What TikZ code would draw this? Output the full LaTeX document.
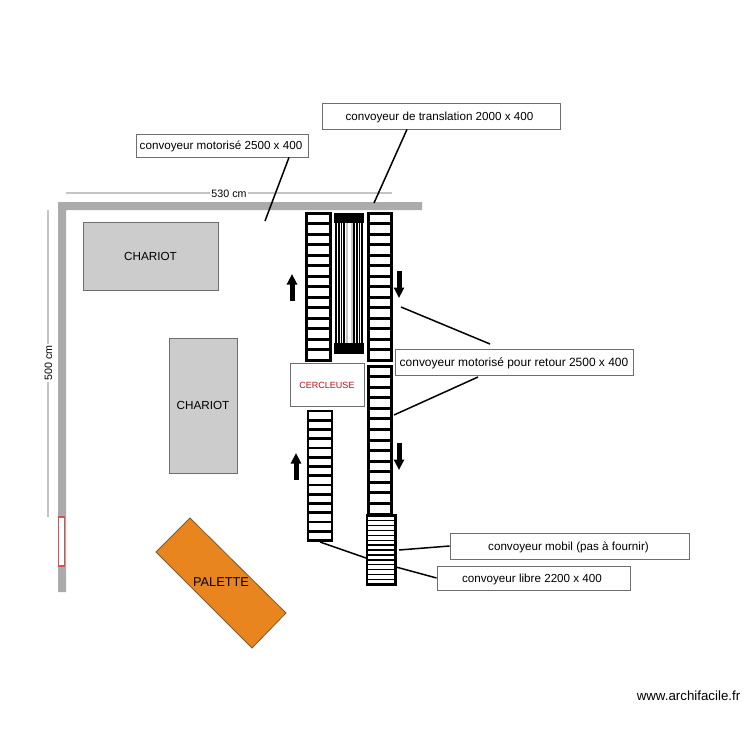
\documentclass[tikz,border=0pt]{standalone}
\usepackage{fontspec}
\setmainfont{Liberation Sans}
\usetikzlibrary{arrows.meta}
\definecolor{wallc}{HTML}{ABABAB}
\definecolor{chariotc}{HTML}{CCCCCC}
\definecolor{edgec}{HTML}{6E6E6E}
\definecolor{palettec}{HTML}{E8851E}
\definecolor{paledge}{HTML}{7A5A30}
\definecolor{dimc}{HTML}{C4C4C4}
\definecolor{redc}{HTML}{C8242B}
\definecolor{cerc}{HTML}{B80F14}
\tikzset{
  lbl/.style={draw=edgec,fill=white,line width=0.8pt,inner sep=0pt,text depth=2.5pt,text height=10.5pt,font=\fontsize{11.65}{14}\selectfont,text=black},
  conn/.style={draw=black,line width=1.5pt},
  wall/.style={fill=wallc,draw=none},
  chariot/.style={draw=edgec,fill=chariotc,line width=1pt,inner sep=0pt,font=\fontsize{11.7}{14}\selectfont},
  dimline/.style={draw=dimc,line width=1.3pt},
  dimtext/.style={fill=white,inner sep=1.5pt,font=\fontsize{10.7}{12}\selectfont},
  flow/.style={-{Triangle[width=10pt,length=10.5pt]},line width=5pt,draw=black},
}
% name, x1, y1, x2, y2, number of cells, line width of frame, line width of slats
\newcommand{\conveyorbelt}[8]{%
  \node[draw=black,fill=white,line width=#7pt,inner sep=0pt,minimum width={#4-#2},minimum height={#5-#3}] (#1) at ({(#2+#4)/2},{(#3+#5)/2}) {};
  \pgfmathtruncatemacro{\lastslat}{#6-1}
  \foreach \k in {1,...,\lastslat}{
    \pgfmathsetmacro{\yy}{#3+(#5-#3)*\k/#6}
    \draw[black,line width=#8pt] (#2,\yy) -- (#4,\yy);
  }%
}
\begin{document}
\begin{tikzpicture}[x=1pt,y=-1pt]
\useasboundingbox (0,0) rectangle (750,750);
% walls
\fill[wall] (58,202) -- (422,202) -- (422,210) -- (66,210) -- (66,592) -- (58,592) -- cycle;
\node[draw=redc!80,fill=white,line width=1.2pt,inner sep=0pt,minimum width=6.5,minimum height=49] (window) at (61.5,541.5) {};
% dimensions
\coordinate (dTa) at (66,193); \coordinate (dTb) at (392,193);
\coordinate (dLa) at (48,210); \coordinate (dLb) at (48,517);
\draw[dimline] (dTa) -- (dTb);
\draw[dimline] (dLa) -- (dLb);
\node[dimtext] (dimT) at (229,193.5) {530 cm};
\node[dimtext,rotate=90] (dimL) at (48.5,363) {500 cm};
% chariots
\node[chariot,minimum width=135,minimum height=68] (ch1) at (150.5,256) {CHARIOT};
\node[chariot,minimum width=68,minimum height=135] (ch2) at (203,405.5) {CHARIOT};
% palette
\filldraw[fill=palettec,draw=paledge,line width=0.8pt] (190,518) -- (286,613) -- (252,648) -- (156,552) -- cycle;
\node[font=\fontsize{12.8}{16}\selectfont,inner sep=0pt] (pal) at (221,582) {PALETTE};
% conveyors
\conveyorbelt{cA}{306.5}{213}{330}{360}{14}{3}{3}
\conveyorbelt{cB}{368.5}{213}{391.5}{360}{14}{3}{3}
\conveyorbelt{cC}{368.5}{366}{391.5}{514}{14}{3}{3}
\conveyorbelt{cD}{308}{411}{332}{540.5}{14}{2.6}{2.8}
\conveyorbelt{cE}{367}{515.5}{395.5}{584.5}{14}{2.5}{1.3}
% translation conveyor
\node[fill=white,inner sep=0pt,minimum width=30,minimum height=142] (cT) at (349,283.5) {};
\foreach \xx in {335,336.6,...,345.5}{\draw[black,line width=0.9pt] (\xx,223) -- (\xx,343);}
\foreach \xx in {353,354.6,...,364}{\draw[black,line width=0.9pt] (\xx,223) -- (\xx,343);}
\fill[black!22] (346,223) rectangle (352.5,343);
\fill[white] (347.5,223) rectangle (351,343);
\fill[black] (334,212.5) rectangle (364,223);
\fill[black] (334,343) rectangle (364,354);
% cercleuse
\node[draw=edgec,fill=white,line width=0.8pt,inner sep=0pt,minimum width=74,minimum height=43,text=cerc,font=\fontsize{9}{11}\selectfont] (cer) at (327,385) {CERCLEUSE};
% arrows
\coordinate (a1a) at (292,301); \coordinate (a1b) at (292,274);
\coordinate (a2a) at (399,271); \coordinate (a2b) at (399,298);
\coordinate (a3a) at (296,480); \coordinate (a3b) at (296,453);
\coordinate (a4a) at (399,443); \coordinate (a4b) at (399,470);
\draw[flow] (a1a) -- (a1b);
\draw[flow] (a2a) -- (a2b);
\draw[flow] (a3a) -- (a3b);
\draw[flow] (a4a) -- (a4b);
% labels
\node[lbl,minimum width=238,minimum height=26] (lT) at (441,116) {\hspace{-3pt}convoyeur de translation 2000 x 400};
\node[lbl,minimum width=172,minimum height=23] (lM) at (222,145.5) {\hspace{-2pt}convoyeur motorisé 2500 x 400};
\node[lbl,minimum width=238,minimum height=26,font=\fontsize{11.95}{14}\selectfont] (lR) at (514,362) {convoyeur motorisé pour retour 2500 x 400};
\node[lbl,minimum width=239,minimum height=26] (lP) at (569.5,546) {\hspace{-2pt}convoyeur mobil (pas à fournir)};
\node[lbl,minimum width=193,minimum height=24] (lL) at (533.5,578) {\hspace{-3pt}convoyeur libre 2200 x 400};
% connectors
\coordinate (eT) at (374,203); \coordinate (eM) at (265,221);
\coordinate (sR1) at (490,344); \coordinate (eR1) at (401,307);
\coordinate (sR2) at (478,377); \coordinate (eR2) at (394,415);
\coordinate (eP) at (399,550); \coordinate (eL) at (396,567);
\coordinate (sD) at (320,542); \coordinate (eD) at (366,558);
\draw[conn] ([xshift=-34pt]lT.south) -- (eT);
\draw[conn] ([xshift=67pt]lM.south) -- (eM);
\draw[conn] (sR1) -- (eR1);
\draw[conn] (sR2) -- (eR2);
\draw[conn] (lP.west) -- (eP);
\draw[conn] (lL.west) -- (eL);
\draw[conn] (sD) -- (eD);
% watermark
\node[font=\fontsize{13.3}{14}\selectfont,inner sep=0pt] (wm) at (688.5,696) {www.archifacile.fr};
\end{tikzpicture}
\end{document}
